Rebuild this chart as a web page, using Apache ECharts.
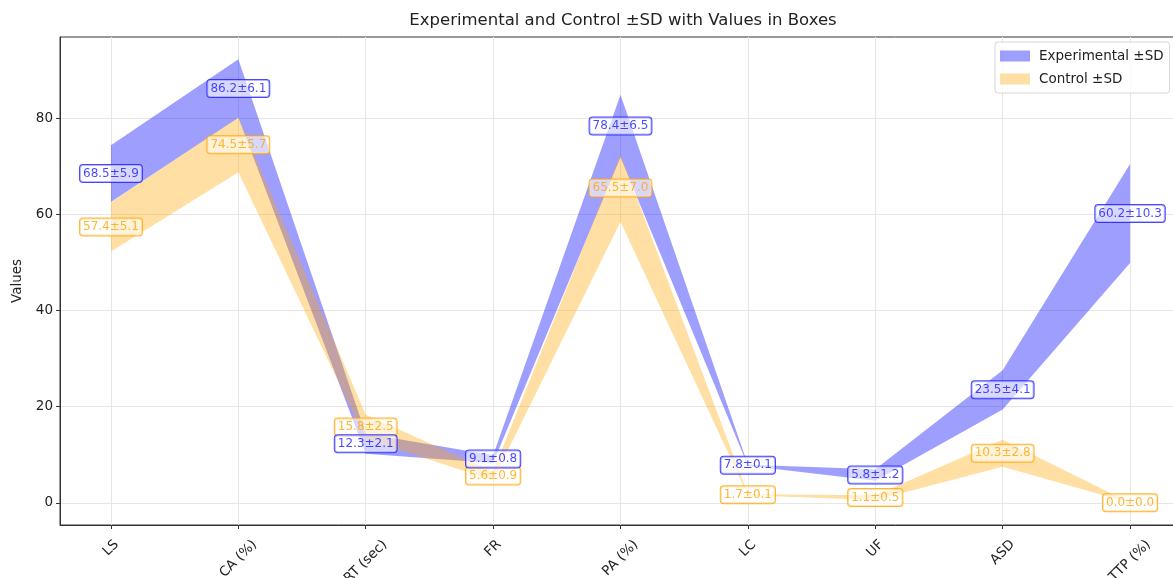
<!DOCTYPE html>
<html>
<head>
<meta charset="utf-8">
<script src="https://cdn.jsdelivr.net/npm/echarts@6/dist/echarts.min.js"></script>
<style>html,body{margin:0;padding:0;background:#fff;}#c{width:1173px;height:578px;}</style>
</head>
<body>
<div id="c"></div>
<script>
const categories = ['LS', 'CA (%)', 'RT (sec)', 'FR', 'PA (%)', 'LC', 'UF', 'ASD', 'TTP (%)'];
const expMean = [68.5, 86.2, 12.3, 9.1, 78.4, 7.8, 5.8, 23.5, 60.2];
const expSD   = [5.9, 6.1, 2.1, 0.8, 6.5, 0.1, 1.2, 4.1, 10.3];
const ctrlMean = [57.4, 74.5, 15.8, 5.6, 65.5, 1.7, 1.1, 10.3, 0.0];
const ctrlSD   = [5.1, 5.7, 2.5, 0.9, 7.0, 0.1, 0.5, 2.8, 0.0];
const yTicks = [0, 20, 40, 60, 80];
const xTicks = categories.map((c, i) => i);

const EXP_FILL = 'rgba(0,0,255,0.38)';
const CTRL_FILL = 'rgba(255,165,0,0.36)';
const FONT = 'DejaVu Sans';
const TICK_FS = 13.5;

// per-label padding so rotated x labels hang below the axis like matplotlib's centred rotated labels
const mctx = document.createElement('canvas').getContext('2d');
mctx.font = TICK_FS + 'px "DejaVu Sans"';
const LABEL_MARGIN = 14;
const rich = {};
categories.forEach((c, i) => {
  const w = mctx.measureText(c).width;
  const bboxH = 0.7071 * (w + TICK_FS * 1.15);
  const dy = 12 + bboxH / 2;
  const d = Math.max(0, dy - LABEL_MARGIN);
  const p = 1.4142 * d;
  rich['c' + i] = { fontFamily: FONT, fontSize: TICK_FS, color: '#222', padding: [p, p, 0, 0] };
});

function bandSeries(name, mean, sd, fill, z) {
  return {
    type: 'custom', name: name, silent: true, z: z,
    itemStyle: { color: fill },
    data: mean.map((m, i) => [i, m - sd[i], m + sd[i]]),
    encode: { x: 0, y: [1, 2] },
    renderItem: function (params, api) {
      if (params.dataIndex !== 0) return null;
      const upper = [], lower = [];
      for (let i = 0; i < mean.length; i++) {
        upper.push(api.coord([i, mean[i] + sd[i]]));
        lower.push(api.coord([i, mean[i] - sd[i]]));
      }
      const pts = upper.concat(lower.reverse());
      return { type: 'polygon', shape: { points: pts }, style: { fill: fill, stroke: null } };
    }
  };
}

function labelSeries(mean, sd, col, z) {
  return {
    type: 'scatter', data: mean.map((v, i) => [i, v]), symbolSize: 1,
    itemStyle: { color: 'rgba(0,0,0,0)' }, z: z, silent: true,
    label: {
      show: true, position: 'inside',
      formatter: p => mean[p.dataIndex].toFixed(1) + '±' + sd[p.dataIndex].toFixed(1),
      color: col, fontFamily: FONT, fontSize: 12,
      backgroundColor: 'rgba(255,255,255,0.75)', borderColor: col, borderWidth: 1, borderRadius: 3,
      padding: [3, 3, 2, 3]
    }
  };
}

const chart = echarts.init(document.getElementById('c'), null, { renderer: 'canvas' });
chart.setOption({
  animation: false,
  backgroundColor: '#fff',
  textStyle: { fontFamily: FONT },
  title: {
    text: 'Experimental and Control ±SD with Values in Boxes',
    left: 618, top: 7, textAlign: 'center',
    textStyle: { fontFamily: FONT, fontSize: 16.5, fontWeight: 'normal', color: '#222' }
  },
  legend: {
    orient: 'vertical', left: 995, top: 42,
    data: [
      { name: 'Experimental ±SD', icon: 'rect', itemStyle: { color: EXP_FILL } },
      { name: 'Control ±SD', icon: 'rect', itemStyle: { color: CTRL_FILL } }
    ],
    itemWidth: 30, itemHeight: 11, itemGap: 9,
    padding: [7, 6, 7, 5],
    textStyle: { fontFamily: FONT, fontSize: 13.5, color: '#222', padding: [0, 0, 0, 4] },
    backgroundColor: 'rgba(255,255,255,0.8)', borderColor: '#d6d6d6', borderWidth: 1, borderRadius: 3
  },
  grid: { left: 60, right: -8, top: 37, bottom: 53, outerBoundsMode: 'none', containLabel: false,
          show: true, borderColor: '#333', borderWidth: 1 },
  xAxis: {
    type: 'value', min: -0.4, max: 8.4,
    axisLine: { show: true, onZero: false, lineStyle: { color: '#333', width: 1 } },
    axisTick: { show: true, customValues: xTicks, length: 4, lineStyle: { color: '#333' } },
    axisLabel: {
      customValues: xTicks, rotate: 45, align: 'center', verticalAlign: 'middle', margin: LABEL_MARGIN,
      formatter: v => { const i = Math.round(v); return '{c' + i + '|' + categories[i] + '}'; },
      rich: rich, fontFamily: FONT, fontSize: TICK_FS, color: '#222'
    },
    splitLine: { show: true, lineStyle: { color: '#e6e6e6', width: 1 } }
  },
  yAxis: {
    type: 'value', min: -4.615, max: 96.915,
    name: 'Values', nameLocation: 'middle', nameGap: 36, nameRotate: 90,
    nameTextStyle: { fontFamily: FONT, fontSize: 13.5, color: '#222' },
    axisLine: { show: true, onZero: false, lineStyle: { color: '#333', width: 1 } },
    axisTick: { show: true, customValues: yTicks, length: 4, lineStyle: { color: '#333' } },
    axisLabel: { customValues: yTicks, margin: 7, fontFamily: FONT, fontSize: TICK_FS, color: '#222' },
    splitLine: { show: true, lineStyle: { color: '#e6e6e6', width: 1 } }
  },
  series: [
    bandSeries('Experimental ±SD', expMean, expSD, EXP_FILL, 2),
    bandSeries('Control ±SD', ctrlMean, ctrlSD, CTRL_FILL, 3),
    labelSeries(ctrlMean, ctrlSD, '#ffa500', 5),
    labelSeries(expMean, expSD, '#1a1aff', 6)
  ]
});
</script>
</body>
</html>
